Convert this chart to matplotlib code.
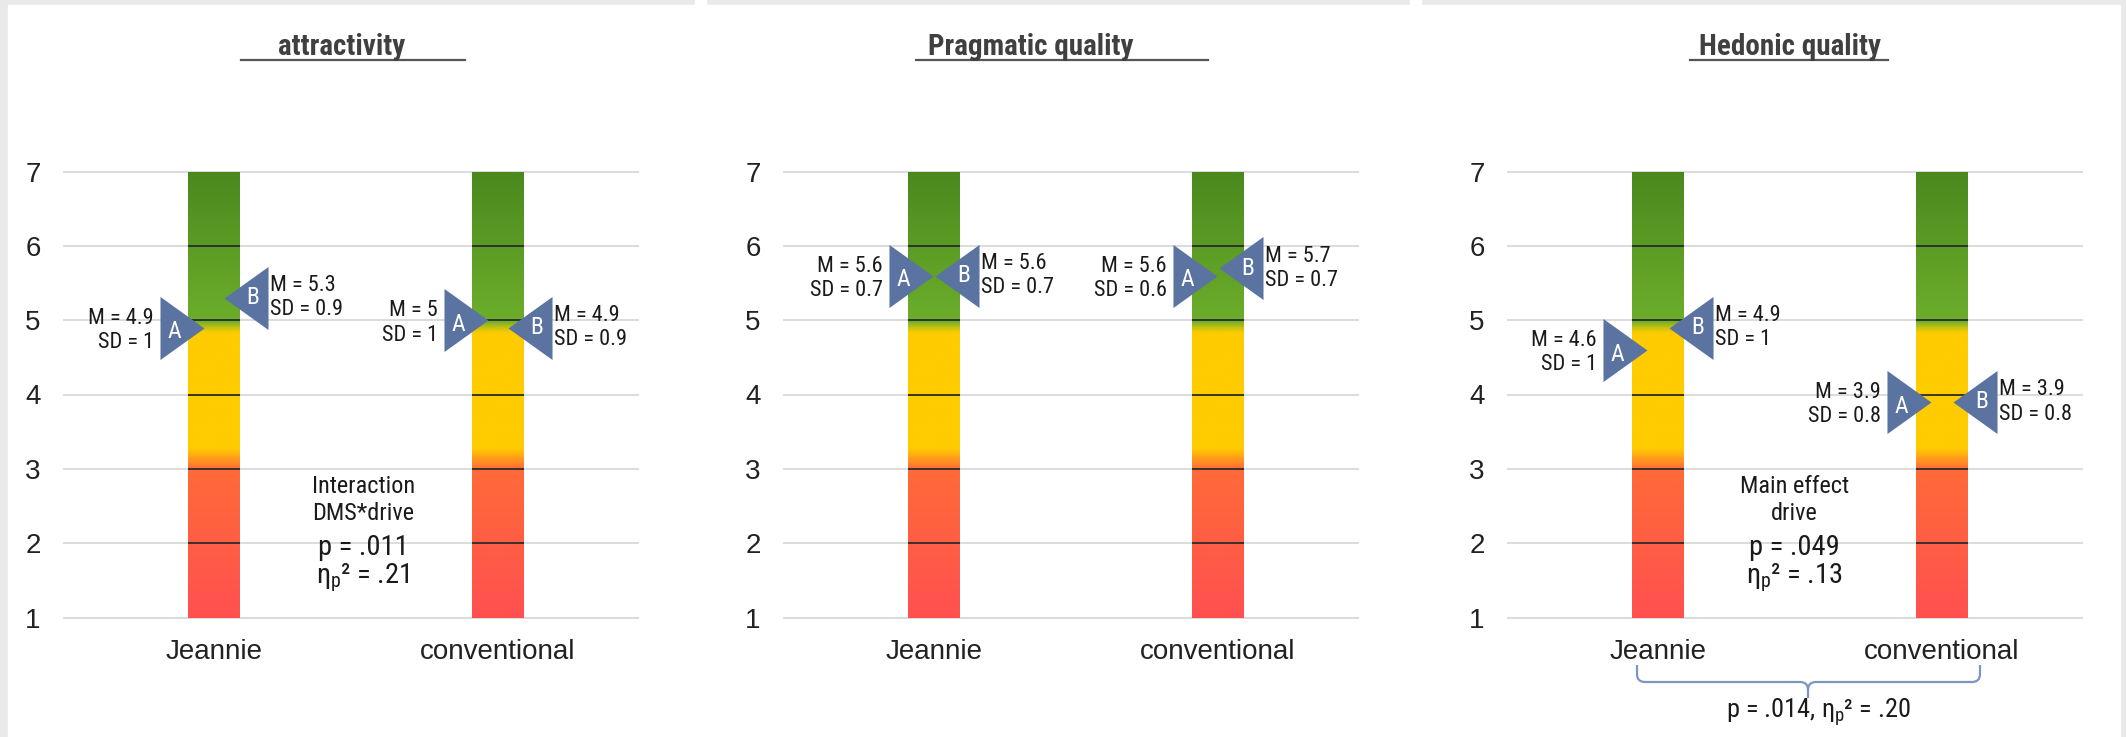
import numpy as np
import matplotlib.pyplot as plt
from matplotlib.colors import LinearSegmentedColormap
from matplotlib.lines import Line2D
from matplotlib.patches import Rectangle, PathPatch
from matplotlib.path import Path
from matplotlib.transforms import blended_transform_factory

NARROW = ['Roboto Condensed', 'Roboto']
plt.rcParams['mathtext.fontset'] = 'custom'
plt.rcParams['mathtext.rm'] = 'Roboto Condensed'
plt.rcParams['mathtext.it'] = 'Roboto Condensed'

# data
titles = ['attractivity', 'Pragmatic quality', 'Hedonic quality']
groups = ['Jeannie', 'conventional']
mean_a = [[4.9, 5.0], [5.6, 5.6], [4.6, 3.9]]
sd_a = [[1.0, 1.0], [0.7, 0.6], [1.0, 0.8]]
mean_b = [[5.3, 4.9], [5.6, 5.7], [4.9, 3.9]]
sd_b = [[0.9, 0.9], [0.7, 0.7], [1.0, 0.8]]
effect_head = ['Interaction\nDMS*drive', None, 'Main effect\ndrive']
effect_p = ['.011', None, '.049']
effect_eta = ['.21', None, '.13']
group_p = '.014'
group_eta = '.20'

ETA = '$\\eta_{p}$²'

W, H = 2126, 737
fig = plt.figure(figsize=(W / 100, H / 100), dpi=100)
fig.patch.set_facecolor('#e9e9e9')
fig.patches.append(Rectangle((8 / W, 0), 2112 / W, 1 - 5 / H, transform=fig.transFigure,
                             color='white', zorder=-10))
for gx in [695, 1410]:
    fig.patches.append(Rectangle((gx / W, 1 - 5 / H), 11 / W, 5 / H, transform=fig.transFigure,
                                 color='white', zorder=-10))

# gradient for the scale bars
cmap = LinearSegmentedColormap.from_list('scale', [
    (0.0, '#ff5050'),
    ((3.0 - 1) / 6, '#ff6b38'),
    ((3.28 - 1) / 6, '#ffcc00'),
    ((4.85 - 1) / 6, '#ffcc00'),
    ((5.0 - 1) / 6, '#6cae2b'),
    (1.0, '#4a891e'),
])
grad = np.linspace(0, 1, 800).reshape(-1, 1)

tri_color = '#5b73a0'
tri_right = [(0, 0), (-1, 0.716), (-1, -0.716)]
tri_left = [(0, 0), (1, 0.716), (1, -0.716)]

ax_left = [63, 783, 1507]
ax_w = 576
xpx = 284.0
x0px = 151
xlim = (-x0px / xpx, (ax_w - x0px) / xpx)
bar_w = 52 / xpx
tip_off = [10, 1, 11]
title_x = [342, 1031, 1790]
uline = [(241, 465), (916, 1208), (1690, 1888)]
effect_x = [0.525, None, 0.48]
px2pt = 0.72

for i, title in enumerate(titles):
    ax = fig.add_axes([ax_left[i] / W, 1 - 617.5 / H, ax_w / W, 446 / H])
    ax.set_facecolor('none')
    for s in ax.spines.values():
        s.set_visible(False)

    ax.hlines(range(1, 8), xlim[0], xlim[1], color='#d9d9d9', lw=1.3, zorder=1, clip_on=False)

    for j in range(len(groups)):
        ax.imshow(grad, extent=(j - bar_w / 2, j + bar_w / 2, 1, 7), origin='lower',
                  aspect='auto', cmap=cmap, zorder=2)
        ax.hlines(range(2, 7), j - bar_w / 2, j + bar_w / 2, color='#2b2b2b', lw=1.3, zorder=3)

        off = tip_off[i] / xpx
        ma, sa = mean_a[i][j], sd_a[i][j]
        mb, sb = mean_b[i][j], sd_b[i][j]
        ax.plot(j - off, ma, marker=tri_right, markersize=63.4, color=tri_color, mew=0, zorder=4)
        ax.plot(j + off, mb, marker=tri_left, markersize=63.4, color=tri_color, mew=0, zorder=4)
        ax.annotate('A', (j - off, ma), xytext=(-30 * px2pt, -3), textcoords='offset points',
                    ha='center', va='center', color='white', fontsize=17, family=NARROW, zorder=5)
        ax.annotate('B', (j + off, mb), xytext=(29 * px2pt, 0), textcoords='offset points',
                    ha='center', va='center', color='white', fontsize=17, family=NARROW, zorder=5)
        ax.annotate(f'M = {ma:g}\nSD = {sa:g}', (j - off, ma), xytext=(-50 * px2pt, -2),
                    textcoords='offset points', ha='right', va='center', ma='right',
                    fontsize=16, family=NARROW, color='#1a1a1a', linespacing=1.2)
        ax.annotate(f'M = {mb:g}\nSD = {sb:g}', (j + off, mb), xytext=(46 * px2pt, 0),
                    textcoords='offset points', ha='left', va='center', ma='left',
                    fontsize=16, family=NARROW, color='#1a1a1a', linespacing=1.2)

    if effect_head[i]:
        ex = effect_x[i]
        ax.text(ex, 2.58, effect_head[i], ha='center', va='center', fontsize=17.5,
                family=NARROW, color='#1a1a1a', linespacing=1.25)
        ax.text(ex, 1.94, f'p = {effect_p[i]}', ha='center', va='center', fontsize=20.5,
                family=NARROW, color='#1a1a1a')
        ax.text(ex, 1.53, f'{ETA} = {effect_eta[i]}', ha='center', va='center',
                fontsize=20.5, family=NARROW, color='#1a1a1a')

    ax.set_xlim(xlim)
    ax.set_ylim(1, 7)
    ax.set_yticks(range(1, 8))
    ax.set_xticks(range(len(groups)))
    ax.set_xticklabels(groups, fontsize=20, family='Liberation Sans', color='#222222')
    ax.set_yticklabels([str(v) for v in range(1, 8)], fontsize=20, family='Liberation Sans',
                       color='#222222')
    ax.tick_params(axis='both', length=0)
    ax.tick_params(axis='x', pad=15.5)
    ax.tick_params(axis='y', pad=16)

    fig.text(title_x[i] / W, 1 - 55 / H, title, ha='center', va='baseline', fontsize=21,
             weight='bold', family=NARROW, color='#404040')
    fig.add_artist(Line2D([uline[i][0] / W, uline[i][1] / W], [1 - 60 / H] * 2,
                          transform=fig.transFigure, color='#555555', lw=1.6))

    if i == 2:
        tr = blended_transform_factory(ax.transData, ax.transAxes)
        xl, xr, xm = -21 / xpx, 1 + 38 / xpx, 150 / xpx
        yt, yh, ytip = -0.1065, -0.1446, -0.1805
        rx, ry = 8 / xpx, 8 / 446
        verts = [(xl, yt), (xl, yh + ry), (xl, yh), (xl + rx, yh), (xm - rx, yh), (xm, yh), (xm, yh - ry),
                 (xm, ytip),
                 (xr, yt), (xr, yh + ry), (xr, yh), (xr - rx, yh), (xm + rx, yh), (xm, yh), (xm, yh - ry)]
        codes = [Path.MOVETO, Path.LINETO, Path.CURVE3, Path.CURVE3, Path.LINETO, Path.CURVE3, Path.CURVE3,
                 Path.LINETO,
                 Path.MOVETO, Path.LINETO, Path.CURVE3, Path.CURVE3, Path.LINETO, Path.CURVE3, Path.CURVE3]
        ax.add_patch(PathPatch(Path(verts, codes), transform=tr, fill=False, edgecolor='#7d95c2',
                               lw=1.6, clip_on=False))
        ax.text(160 / xpx, -0.2253, f'p = {group_p}, {ETA} = {group_eta}', transform=tr,
                ha='center', va='baseline', fontsize=19, family=NARROW, color='#1a1a1a')

fig.savefig('out.png', dpi=100, facecolor=fig.get_facecolor())
